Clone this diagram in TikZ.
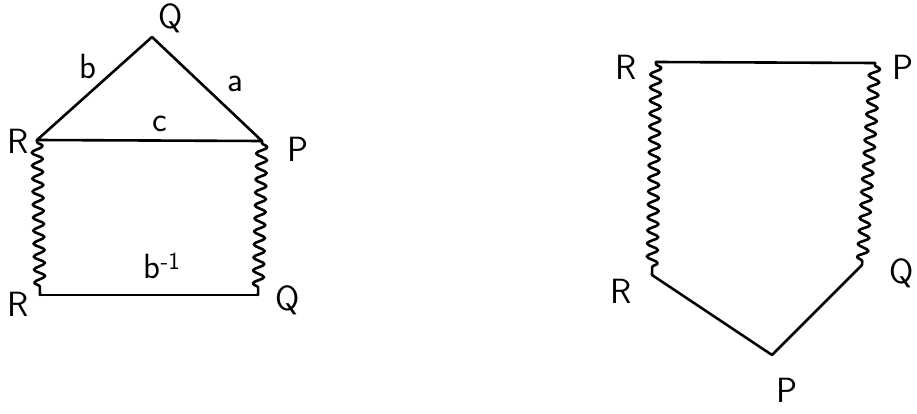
\documentclass[tikz,border=0pt]{standalone}
\usetikzlibrary{decorations.pathmorphing}
\begin{document}
\begin{tikzpicture}[x=1pt,y=-1pt,
  edge/.style={line width=2.6pt,line cap=round,line join=round},
  wavy/.style={edge,decorate,decoration={snake,amplitude=5.5pt,segment length=13pt,pre length=2pt,post length=2pt}},
  lbl/.style={font=\fontsize{35}{37}\selectfont\sffamily,inner sep=0pt}]
\useasboundingbox (0,0) rectangle (917,414);
% left figure: triangle on top of a square
\coordinate (Qt) at (152,37);
\coordinate (Rl) at (37,140);
\coordinate (Pl) at (262,141);
\coordinate (Rb) at (40,295);
\coordinate (Qb) at (258,295);
\draw[edge] (Rl) -- (Qt) -- (Pl) -- (Rl);
\draw[edge] (Rb) -- (Qb);
\draw[wavy] (Rl) -- (Rb);
\draw[wavy] (Pl) -- (Qb);
\node[lbl] (lQt) at (171,18) {Q};
\node[lbl] (lb) at (88,66) {b};
\node[lbl] (la) at (235,84) {a};
\node[lbl] (lc) at (160,124) {c};
\node[lbl] (lRl) at (18,141) {R};
\node[lbl] (lPl) at (298,149) {P};
\node[lbl] (lbinv) at (162,266) {b\textsuperscript{-1}};
\node[lbl] (lRb) at (18,304) {R};
\node[lbl] (lQb) at (288,300) {Q};
% right figure: pentagon with two wavy sides
\coordinate (Rt) at (656,62);
\coordinate (Pt) at (875,63);
\coordinate (Rr) at (652,275);
\coordinate (Qr) at (862,265);
\coordinate (Pr) at (772,355);
\draw[edge] (Rt) -- (Pt);
\draw[edge] (Rr) -- (Pr) -- (Qr);
\draw[wavy] (Rt) -- (Rr);
\draw[wavy] (Pt) -- (Qr);
\node[lbl] (lRt) at (626,67) {R};
\node[lbl] (lPt) at (903,67) {P};
\node[lbl] (lRr) at (621,291) {R};
\node[lbl] (lQr) at (902,273) {Q};
\node[lbl] (lPr) at (787,390) {P};
\end{tikzpicture}
\end{document}
